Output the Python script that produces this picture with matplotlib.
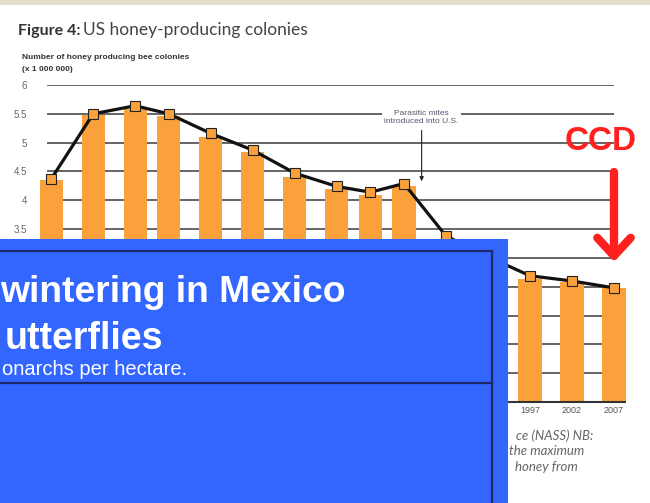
import numpy as np
import matplotlib
matplotlib.use("Agg")
import matplotlib.pyplot as plt
from matplotlib.patches import Rectangle, FancyArrowPatch
from matplotlib.lines import Line2D

# data (millions of colonies)
years = [1940, 1945, 1950, 1954, 1959, 1964, 1969, 1974, 1978, 1982, 1987, 1992, 1997, 2002, 2007]
bar_tops = [4.35, 5.48, 5.58, 5.47, 5.10, 4.83, 4.41, 4.20, 4.10, 4.24, 3.32, 3.00, 2.64, 2.59, 2.47]
line_pts = [4.37, 5.50, 5.64, 5.50, 5.16, 4.87, 4.47, 4.24, 4.14, 4.29, 3.38, 3.02, 2.69, 2.60, 2.48]
yticks = np.arange(0.5, 6.01, 0.5)

W, H = 650, 503
ORANGE = "#fba13c"
BLUE = "#3366ff"
NAVY = "#1b2a6b"
SANS = "Liberation Sans"


def px(x, y):
    """pixel position -> figure fraction"""
    return x / W, 1 - y / H


fig = plt.figure(figsize=(6.5, 5.03), dpi=100)
fig.patch.set_facecolor("white")

# axes: x pixel 34..640, y pixel 85 (6.0) .. 402 (0.5)
ax = fig.add_axes([34 / W, (H - 402) / H, (640 - 34) / W, (402 - 85) / H])
ax.set_xlim(2007 + (34 - 614) / 8.4, 2007 + (640 - 614) / 8.4)
ax.set_ylim(0.5, 6.0)
for s in ax.spines.values():
    s.set_visible(False)
ax.set_facecolor("none")

ax.hlines(yticks[1:], 1939.5, 2007, color="#3a3a3a", lw=1.1, zorder=1)
ax.hlines(0.5, 1938.0, 2008.4, color="#333333", lw=1.5, zorder=3, clip_on=False)
ax.bar(years, [v - 0.5 for v in bar_tops], bottom=0.5, width=2.75, color=ORANGE, zorder=2)
ax.plot(years, line_pts, color="#111111", lw=2.3, marker="s", ms=6.5,
        mfc=ORANGE, mec="#222222", mew=0.8, zorder=4)

ax.set_yticks(yticks)
ax.set_yticklabels(["{:g}".format(v) for v in yticks], family=SANS, fontsize=7, color="#666666")
ax.set_xticks(years)
ax.set_xticklabels([str(y) for y in years], family=SANS, fontsize=6.5, color="#555555")
ax.tick_params(length=0, pad=3)
ax.tick_params(axis="y", pad=5)

ax.annotate("Parasitic mites\nintroduced into U.S.", xy=(1984.1, 4.33), xytext=(1984.1, 5.44),
            ha="center", va="center", family=SANS, fontsize=6, color="#5a5570",
            linespacing=1.3,
            bbox=dict(boxstyle="square,pad=0.3", fc="white", ec="none"),
            arrowprops=dict(arrowstyle="-|>,head_length=0.4,head_width=0.2", color="#222222",
                            lw=0.8, shrinkA=2, shrinkB=0), zorder=5)

# titles
fig.text(*px(18, 35), "Figure 4:", fontsize=11.5, weight="bold", color="#333333", family="Lato")
fig.text(*px(83, 35), "US honey-producing colonies", fontsize=12.5, color="#444444", family="Lato")
fig.text(*px(22, 59), "Number of honey producing bee colonies", fontsize=6, weight="bold",
         color="#333333", family=SANS)
fig.text(*px(22, 71), "(x 1 000 000)", fontsize=6, weight="bold", color="#333333", family=SANS)

# caption fragments peeking out from under the blue panel
cap = [("ce (NASS) NB:", 593, 440),
       ("the maximum", 584, 455),
       ("honey from", 578, 471)]
for t, xr, yb in cap:
    fig.text(*px(xr, yb), t, ha="right", fontsize=9.5, style="italic", color="#666666",
             family="Lato", zorder=5)

# thin textured strip at top
fig.add_artist(Rectangle(px(0, 5), 1, 5 / H, transform=fig.transFigure, fc="#e2ddcc",
                         ec="none", zorder=6))

# CCD callout
fig.text(*px(601, 141), "CCD", ha="center", va="center", fontsize=24, weight="bold",
         color="#ff2020", family=SANS, zorder=7)
fig.add_artist(FancyArrowPatch(px(614, 172), px(614, 262), transform=fig.transFigure,
                               arrowstyle="->,head_length=13,head_width=12", color="#ff2020",
                               lw=6, capstyle="round", joinstyle="round", zorder=7,
                               shrinkA=0, shrinkB=0))

# overlapping blue slide panel
fig.add_artist(Rectangle(px(0, 503), 508 / W, (503 - 239) / H, transform=fig.transFigure,
                         fc=BLUE, ec="none", zorder=10))
for xs, ys in [([0, 492], [251, 251]), ([492, 492], [251, 503]), ([0, 492], [383, 383])]:
    fig.add_artist(Line2D([x / W for x in xs], [1 - y / H for y in ys], transform=fig.transFigure,
                          color=NAVY, lw=1.6, zorder=11))
fig.text(*px(0, 302), "wintering in Mexico", ha="left", fontsize=26.8, weight="bold",
         color="white", family=SANS, zorder=12)
fig.text(*px(163, 349), "utterflies", ha="right", fontsize=27, weight="bold",
         color="white", family=SANS, zorder=12)
fig.text(*px(187, 375), "onarchs per hectare.", ha="right", fontsize=14.5,
         color="white", family=SANS, zorder=12)

fig.savefig("out.png", dpi=100)
